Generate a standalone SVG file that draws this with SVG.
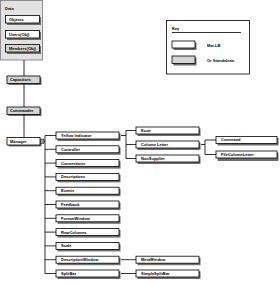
<svg xmlns="http://www.w3.org/2000/svg" width="280" height="285" viewBox="0 0 280 285">
<style>
.t{font-family:"Liberation Sans",Arial,sans-serif;font-size:4px;font-weight:bold;fill:#000}
.b{fill:#fff;stroke:#000;stroke-width:0.8}
.g{fill:#d4d4d4;stroke:#000;stroke-width:0.8}
.s{fill:#6e6e6e}
.c{stroke:#000;stroke-width:0.8;fill:none}
</style>
<rect width="280" height="285" fill="#fff"/>
<g id="data">
<rect x="0.5" y="0.5" width="42" height="59.5" fill="#e2e2e2" stroke="#777" stroke-width="0.8"/>
<text class="t" x="5" y="10">Data</text>
</g>
<g id="objects"><rect class="s" x="7" y="17" width="34" height="8"/><rect class="b" x="5.5" y="15.5" width="34" height="7.5"/><text class="t" x="9" y="20.6">Objects</text></g>
<g id="users"><rect class="s" x="7" y="32" width="34" height="8"/><rect class="b" x="5.5" y="30.5" width="34" height="7.5"/><text class="t" x="9" y="35.6">Users(Obj)</text></g>
<g id="members"><rect class="s" x="7" y="46" width="34" height="8"/><rect class="g" x="5.5" y="44.5" width="34" height="7.5" fill="#e8e8e8"/><text class="t" x="9" y="49.6">Members(Obj)</text></g>
<g id="capacitors"><rect class="s" x="8.5" y="77.5" width="33" height="7.5"/><rect class="g" x="7" y="76" width="33" height="7.5"/><text class="t" x="10" y="81.1">Capacitors</text></g>
<g id="commander"><rect class="s" x="8.5" y="108.5" width="33" height="7.5"/><rect class="g" x="7" y="107" width="33" height="7.5"/><text class="t" x="10" y="112.1">Commander</text></g>
<g id="manager"><rect class="s" x="8.5" y="139" width="33" height="7.5"/><rect class="b" x="7" y="137.5" width="33" height="7.5"/><text class="t" x="10" y="142.6">Manager</text></g>

<g id="connectors">
<path class="c" d="M24 60V76M24 83.5V107M24 114.5V137.5"/>
<rect x="40.5" y="139" width="3.5" height="4.5" fill="#999" stroke="#000" stroke-width="0.5"/>
<path class="c" d="M44 141.2H45M45 135.5V273.5M45 135.5H56M45 149.3H56M45 163.1H56M45 176.9H56M45 190.7H56M45 204.5H56M45 218.3H56M45 232.1H56M45 245.9H56M45 259.7H56M45 273.5H56"/>
<path class="c" d="M121 135.5H126M126 130.5V158.5M126 130.5H136M126 144.5H136M126 158.5H136"/>
<path class="c" d="M201 144.5H205M205 140V154.5M205 140H216M205 154.5H216"/>
<path class="c" d="M121 259.7H136M121 273.5H136"/>
</g>

<g id="yellowIndicator"><rect class="s" x="57.5" y="133.5" width="63" height="7.5"/><rect class="b" x="56" y="132" width="63" height="7"/><text class="t" x="61" y="136.9">Yellow Indicator</text></g>
<g id="controller"><rect class="s" x="57.5" y="147.3" width="63" height="7.5"/><rect class="b" x="56" y="145.8" width="63" height="7"/><text class="t" x="61" y="150.7">Controller</text></g>
<g id="connections"><rect class="s" x="57.5" y="161.1" width="63" height="7.5"/><rect class="b" x="56" y="159.6" width="63" height="7"/><text class="t" x="61" y="164.5">Connections</text></g>
<g id="descriptions"><rect class="s" x="57.5" y="174.9" width="63" height="7.5"/><rect class="b" x="56" y="173.4" width="63" height="7"/><text class="t" x="61" y="178.3">Descriptions</text></g>
<g id="events"><rect class="s" x="57.5" y="188.7" width="63" height="7.5"/><rect class="b" x="56" y="187.2" width="63" height="7"/><text class="t" x="61" y="192.1">Events</text></g>
<g id="feedback"><rect class="s" x="57.5" y="202.5" width="63" height="7.5"/><rect class="b" x="56" y="201" width="63" height="7"/><text class="t" x="61" y="205.9">Feedback</text></g>
<g id="formatWindow"><rect class="s" x="57.5" y="216.3" width="63" height="7.5"/><rect class="b" x="56" y="214.8" width="63" height="7"/><text class="t" x="61" y="219.7">FormatWindow</text></g>
<g id="rowColumns"><rect class="s" x="57.5" y="230.1" width="63" height="7.5"/><rect class="b" x="56" y="228.6" width="63" height="7"/><text class="t" x="61" y="233.5">RowColumns</text></g>
<g id="scale"><rect class="s" x="57.5" y="243.9" width="63" height="7.5"/><rect class="b" x="56" y="242.4" width="63" height="7"/><text class="t" x="61" y="247.3">Scale</text></g>
<g id="descriptionWindow"><rect class="s" x="57.5" y="257.7" width="63" height="7.5"/><rect class="b" x="56" y="256.2" width="63" height="7"/><text class="t" x="61" y="261.1">DescriptionWindow</text></g>
<g id="splitBar"><rect class="s" x="57.5" y="271.5" width="63" height="7.5"/><rect class="b" x="56" y="270" width="63" height="7"/><text class="t" x="61" y="274.9">SplitBar</text></g>

<g id="econ"><rect class="s" x="137.5" y="128.5" width="63" height="7.5"/><rect class="b" x="136" y="127" width="63" height="7"/><text class="t" x="141" y="131.9">Econ</text></g>
<g id="columnLetter"><rect class="s" x="137.5" y="142.5" width="63" height="7.5"/><rect class="b" x="136" y="141" width="63" height="7"/><text class="t" x="141" y="145.9">Column Letter</text></g>
<g id="nonSupplier"><rect class="s" x="137.5" y="156.5" width="63" height="7.5"/><rect class="b" x="136" y="155" width="63" height="7"/><text class="t" x="141" y="159.9">NonSupplier</text></g>
<g id="metaWindow"><rect class="s" x="137.5" y="257.7" width="63" height="7.5"/><rect class="b" x="136" y="256.2" width="63" height="7"/><text class="t" x="141" y="261.1">MetaWindow</text></g>
<g id="simpleSplitBar"><rect class="s" x="137.5" y="271.5" width="63" height="7.5"/><rect class="b" x="136" y="270" width="63" height="7"/><text class="t" x="141" y="274.9">SimpleSplitBar</text></g>

<g id="command"><rect class="s" x="217.5" y="138" width="61" height="7.5"/><rect class="b" x="216" y="136.5" width="61" height="7"/><text class="t" x="221" y="141.4">Command</text></g>
<g id="fileColumnLetter"><rect class="s" x="217.5" y="152.5" width="61" height="8.5"/><rect class="b" x="216" y="151" width="61" height="7"/><text class="t" x="221" y="155.9">FileColumnLetter</text></g>

<g id="key">
<rect x="166.5" y="20.5" width="83" height="53.5" fill="#fff" stroke="#000" stroke-width="0.8"/>
<text class="t" x="172" y="30">Key</text>
<path class="c" d="M172 32.5H241"/>
<rect class="s" x="173.5" y="42.5" width="23" height="7.5"/><rect class="b" x="172" y="41" width="23" height="7"/>
<text class="t" x="207" y="46.5">Mat.LB</text>
<rect class="s" x="173.5" y="57.5" width="23" height="8"/><rect class="g" x="172" y="56" width="23" height="7.5" fill="#e2e2e2"/>
<text class="t" x="207" y="61.5">Or Standalone</text>
</g>
</svg>
